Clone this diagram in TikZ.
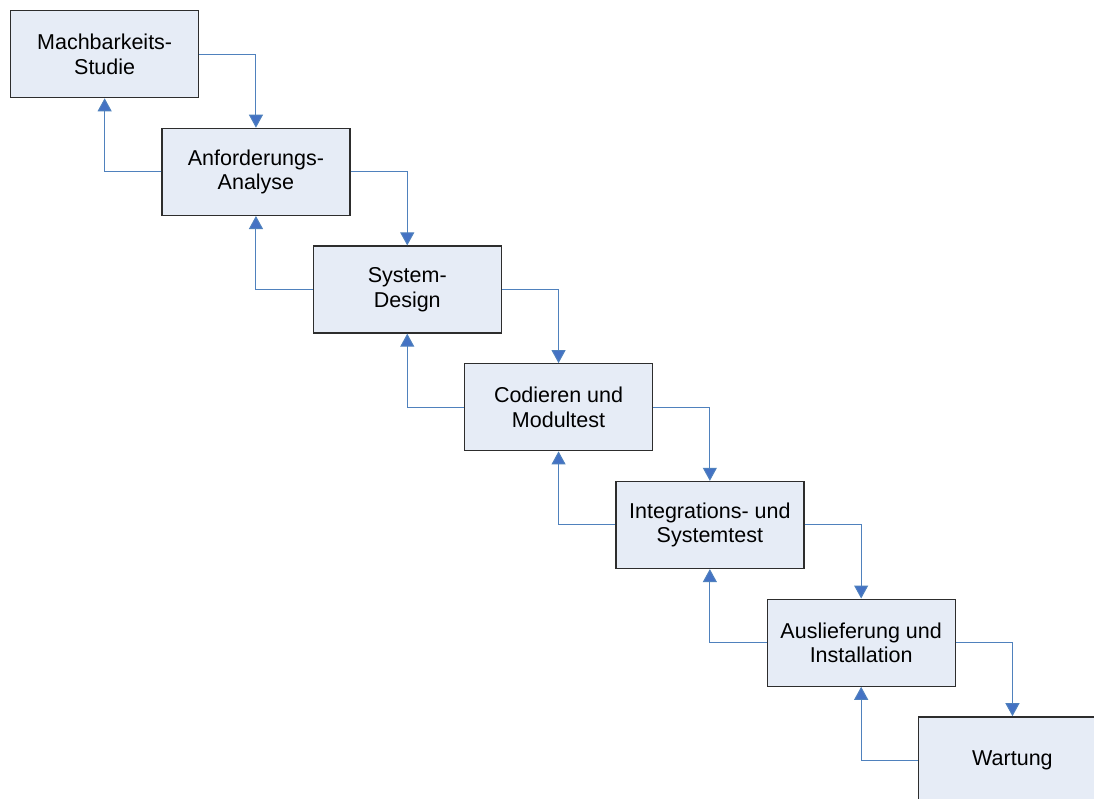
\documentclass[tikz,border=0pt]{standalone}
\usepackage{fontspec}
\setmainfont{Liberation Sans}
\usetikzlibrary{arrows.meta}
\definecolor{lineblue}{RGB}{79,129,189}
\definecolor{arrowblue}{RGB}{68,114,196}
\definecolor{boxfill}{RGB}{230,236,246}
\definecolor{boxborder}{RGB}{45,45,45}
\begin{document}
\begin{tikzpicture}[x=1pt,y=-1pt,
  phase/.style={draw=boxborder,fill=boxfill,line width=1.3pt,minimum width=188pt,minimum height=87pt,anchor=north west,align=center,inner sep=0pt,font=\fontsize{21.5}{24.5}\selectfont},
  flow/.style={draw=lineblue,line width=1pt,-{Triangle[width=14pt,length=13pt,fill=arrowblue]}}]
\clip (0,0) rectangle (1094,798);
\fill[white] (0,0) rectangle (1094,798);
\node[phase] (p1) at (10,10) {Machbarkeits-\\Studie};
\node[phase] (p2) at (161.3,127.7) {Anforderungs-\\Analyse};
\node[phase] (p3) at (312.6,245.4) {System-\\Design};
\node[phase] (p4) at (463.9,363.1) {Codieren und\\Modultest};
\node[phase] (p5) at (615.2,480.8) {Integrations- und\\Systemtest};
\node[phase] (p6) at (766.5,598.5) {Auslieferung und\\Installation};
\node[phase] (p7) at (917.8,716.2) {Wartung};
\draw[flow] (p1.east) -| (p2.north);
\draw[flow] (p2.west) -| (p1.south);
\draw[flow] (p2.east) -| (p3.north);
\draw[flow] (p3.west) -| (p2.south);
\draw[flow] (p3.east) -| (p4.north);
\draw[flow] (p4.west) -| (p3.south);
\draw[flow] (p4.east) -| (p5.north);
\draw[flow] (p5.west) -| (p4.south);
\draw[flow] (p5.east) -| (p6.north);
\draw[flow] (p6.west) -| (p5.south);
\draw[flow] (p6.east) -| (p7.north);
\draw[flow] (p7.west) -| (p6.south);
\end{tikzpicture}
\end{document}
